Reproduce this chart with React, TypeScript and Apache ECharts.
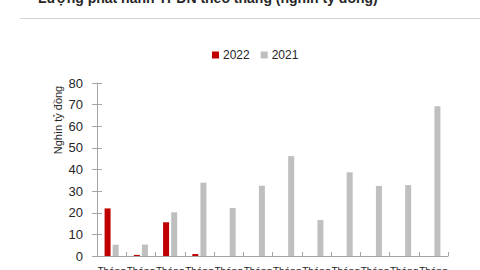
import React, { useEffect, useRef } from "react";
import * as echarts from "echarts";

const months = ["Tháng 1", "Tháng 2", "Tháng 3", "Tháng 4", "Tháng 5", "Tháng 6", "Tháng 7", "Tháng 8", "Tháng 9", "Tháng 10", "Tháng 11", "Tháng 12"];
const issued2022: (number | null)[] = [22, 0.5, 15.6, 0.9, null, null, null, null, null, null, null, null];
const issued2021 = [5.2, 5.3, 20.2, 33.9, 22.2, 32.5, 46.2, 16.6, 38.7, 32.4, 32.8, 69.2];
const yTicks = [0, 10, 20, 30, 40, 50, 60, 70, 80];

const FONT = "'Liberation Sans', Arial, sans-serif";

export default function App() {
  const ref = useRef<HTMLDivElement>(null);
  useEffect(() => {
    const chart = echarts.init(ref.current!, null, { renderer: "svg" });
    const axisColor = "#a6a6a6";
    chart.setOption({
      animation: false,
      backgroundColor: "#ffffff",
      textStyle: { fontFamily: FONT },
      graphic: [
        {
          type: "text",
          x: 38,
          y: 5,
          style: {
            text: "Lượng phát hành TPDN theo tháng (nghìn tỷ đồng)",
            font: `bold 14px ${FONT}`,
            fill: "#262626",
            verticalAlign: "bottom",
          },
        },
        {
          type: "line",
          shape: { x1: 20, y1: 18.5, x2: 480, y2: 18.5 },
          style: { stroke: "#d4d4d4", lineWidth: 1 },
        },
        {
          type: "text",
          x: 58,
          y: 120,
          rotation: Math.PI / 2,
          style: {
            text: "Nghìn tỷ đồng",
            font: `11px ${FONT}`,
            fill: "#262626",
            align: "center",
            verticalAlign: "middle",
          },
        },
      ],
      legend: {
        top: 44,
        left: 207,
        itemWidth: 7,
        itemHeight: 7,
        itemGap: 11,
        icon: "rect",
        textStyle: { fontSize: 12, color: "#262626", fontFamily: FONT, padding: [0, 0, 0, -1] },
        data: ["2022", "2021"],
      },
      grid: { left: 97, right: 32, top: 83, bottom: 14, outerBoundsMode: "none", containLabel: false },
      xAxis: {
        type: "category",
        data: months,
        axisLine: { lineStyle: { color: axisColor } },
        axisTick: { show: true, inside: true, length: 4, lineStyle: { color: axisColor } },
        axisLabel: {
          fontSize: 10,
          color: "#262626",
          margin: 10,
          interval: 0,
          formatter: (v: string) => v.replace(" ", "\n"),
        },
      },
      yAxis: [
        {
          type: "value",
          min: yTicks[0],
          max: yTicks[yTicks.length - 1],
          interval: 10,
          axisLine: { show: true, lineStyle: { color: axisColor } },
          axisTick: { show: true, length: 5, lineStyle: { color: axisColor } },
          axisLabel: { fontSize: 13, color: "#262626", margin: 14 },
          splitLine: { show: false },
        },
        {
          type: "value",
          position: "left",
          min: yTicks[0],
          max: yTicks[yTicks.length - 1],
          interval: 10,
          axisLine: { show: false },
          axisTick: { show: true, inside: true, length: 5, lineStyle: { color: axisColor } },
          axisLabel: { show: false },
          splitLine: { show: false },
        },
      ],
      series: [
        {
          name: "2022",
          type: "bar",
          data: issued2022,
          barWidth: 6,
          barGap: "35%",
          itemStyle: { color: "#c00000" },
        },
        {
          name: "2021",
          type: "bar",
          data: issued2021,
          barWidth: 6,
          itemStyle: { color: "#bfbfbf" },
        },
      ],
    });
    return () => chart.dispose();
  }, []);
  return <div ref={ref} style={{ width: 480, height: 270, position: "absolute", left: 0, top: 0 }} />;
}
